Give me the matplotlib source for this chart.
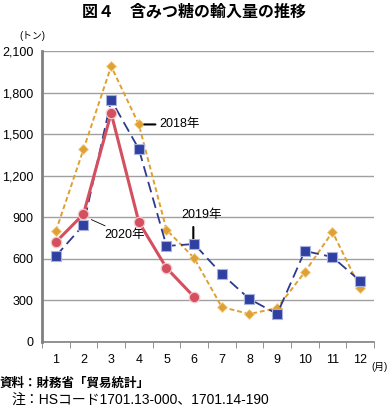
import matplotlib
matplotlib.use("Agg")
import matplotlib.pyplot as plt

plt.rcParams['font.family'] = ['Liberation Sans', 'Noto Sans CJK JP']

months = [1, 2, 3, 4, 5, 6, 7, 8, 9, 10, 11, 12]
month_labels = [str(m) for m in months]
y2018 = [800, 1390, 1990, 1570, 810, 606, 252, 202, 245, 505, 794, 390]
y2019 = [620, 844, 1746, 1393, 693, 707, 490, 310, 202, 657, 613, 440]
months2020 = [1, 2, 3, 4, 5, 6]
y2020 = [721, 923, 1652, 866, 534, 325]
yticks = [0, 300, 600, 900, 1200, 1500, 1800, 2100]

fig = plt.figure(figsize=(3.88, 4.11), dpi=100)
ax = fig.add_axes([0.1082, 0.1679, 0.8557, 0.708])

ax.set_xlim(0.5, 12.5)
ax.set_ylim(0, 2100)
ax.set_yticks(yticks)
ax.set_yticklabels([f"{v:,}" for v in yticks], fontsize=9)
ax.yaxis.grid(True, color='#a0a0a0', linewidth=1.0)
ax.set_axisbelow(True)

ax.set_xticks(months)
ax.set_xticklabels(month_labels, fontsize=9)
ax.set_xticks([m + 0.5 for m in months[:-1]] + [0.5, 12.5], minor=True)
ax.tick_params(axis='x', which='major', length=0, pad=9)
ax.tick_params(axis='x', which='minor', length=4, color='#808080', direction='out')
ax.tick_params(axis='y', length=0, pad=6)

for s in ['top', 'right']:
    ax.spines[s].set_visible(False)
ax.spines['left'].set_color('#808080')
ax.spines['left'].set_linewidth(2)
ax.spines['bottom'].set_color('#808080')
ax.spines['bottom'].set_linewidth(1.2)

ax.plot(months, y2018, color='#E0A030', linestyle=(0, (2.5, 1.5)), linewidth=1.4,
        marker='D', markersize=5, markerfacecolor='#DFA036', markeredgecolor='#F5D08A',
        markeredgewidth=0.6, zorder=3)
ax.plot(months, y2019, color='#2E3A8C', linestyle=(0, (6, 3)), linewidth=1.3,
        marker='s', markersize=7.5, markerfacecolor='#3040A0', markeredgecolor='#A8B0DD',
        markeredgewidth=0.8, zorder=4)
ax.plot(months2020, y2020, color='#D5505E', linestyle='-', linewidth=2.2,
        marker='o', markersize=7.5, markerfacecolor='#D5505E', markeredgecolor='#F4C8CC',
        markeredgewidth=0.9, zorder=5)

# annotations
ax.annotate('2018年', xy=(4.1, 1570), xytext=(4.75, 1570), fontsize=9,
            va='center', ha='left',
            arrowprops=dict(arrowstyle='-', color='black', lw=1.5, shrinkA=1, shrinkB=2))
ax.text(6.25, 870, '2019年', fontsize=9, va='bottom', ha='center')
ax.annotate('', xy=(5.97, 735), xytext=(5.97, 830),
            arrowprops=dict(arrowstyle='-', color='black', lw=1.5, shrinkA=0, shrinkB=0))
ax.annotate('2020年', xy=(2.1, 900), xytext=(2.75, 775), fontsize=9,
            va='center', ha='left',
            arrowprops=dict(arrowstyle='-', color='black', lw=0.6, shrinkA=0, shrinkB=4))

fig.text(0.5, 0.972, '図４　含みつ糖の輸入量の推移', ha='center', va='center',
         fontsize=11.5, fontweight='bold', family=['Noto Sans CJK JP'])
fig.text(0.05, 0.912, '(トン)', ha='left', va='center', fontsize=7)
fig.text(0.999, 0.108, '(月)', ha='right', va='center', fontsize=7)
fig.text(0.0, 0.066, '資料：財務省「貿易統計」', ha='left', va='center',
         fontsize=9, fontweight='bold')
fig.text(0.03, 0.027, '注：HSコード1701.13-000、1701.14-190', ha='left', va='center',
         fontsize=10)

fig.savefig('out.png', dpi=100)
